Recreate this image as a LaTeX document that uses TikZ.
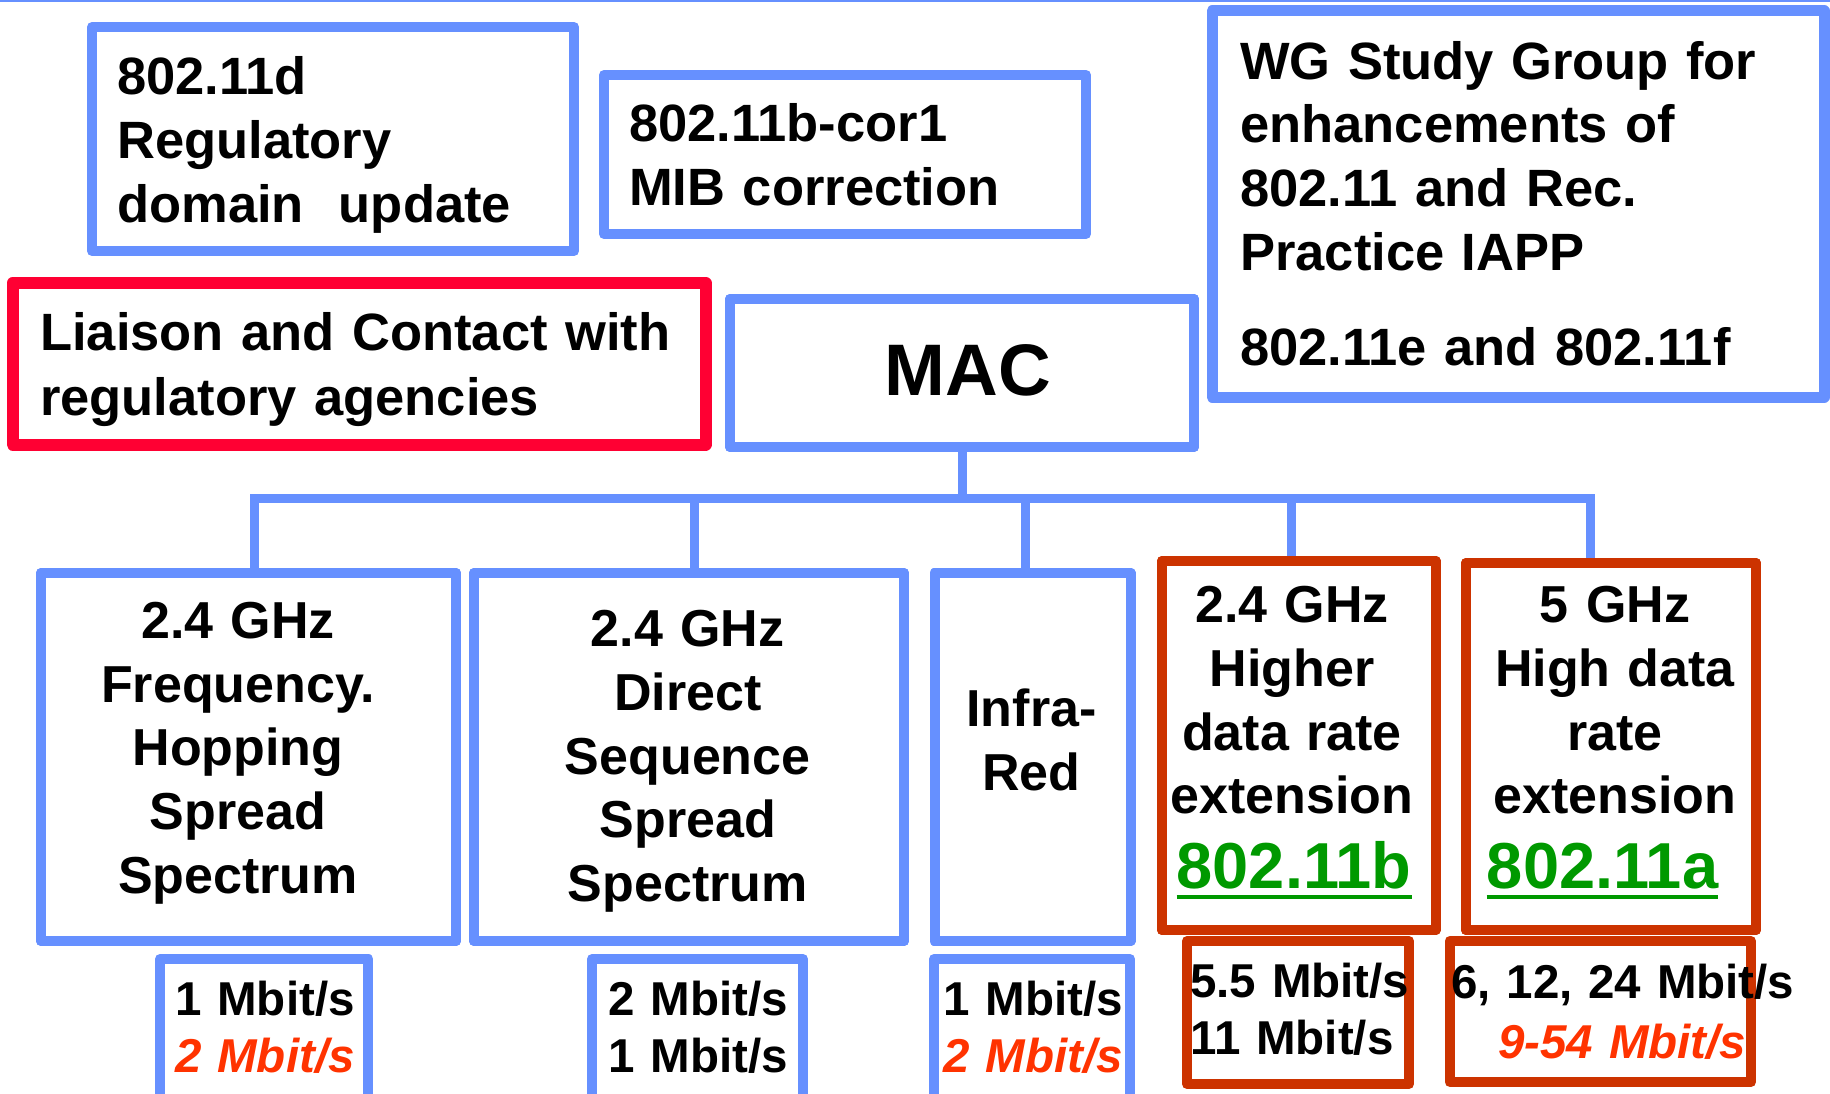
\documentclass[tikz,border=0pt]{standalone}
\usepackage{fontspec}
\setmainfont{Liberation Sans}
\definecolor{bl}{RGB}{102,144,255}
\definecolor{lred}{RGB}{255,0,51}
\definecolor{ored}{RGB}{204,51,0}
\definecolor{grn}{RGB}{0,153,0}
\definecolor{ired}{RGB}{255,51,0}
\tikzset{
  bluebox/.style={draw=bl, line width=10pt, line join=round, inner sep=0pt, outer sep=0pt, fill=white},
  redbox/.style={draw=lred, line width=12pt, line join=round, inner sep=0pt, outer sep=0pt, fill=white},
  orbox/.style={draw=ored, line width=10pt, line join=round, inner sep=0pt, outer sep=0pt, fill=white},
  conn/.style={draw=bl, line width=9pt},
  ltxt/.style={inner sep=0pt, anchor=base west, text width=700pt, align=left,
    font=\bfseries\fontsize{52.5}{63.7}\selectfont},
  ctxt/.style={inner sep=0pt, anchor=base, text width=400pt, align=center,
    font=\bfseries\fontsize{52}{63.7}\selectfont},
  rtxt/.style={inner sep=0pt, anchor=base west, text width=400pt, align=left,
    font=\bfseries\fontsize{47.5}{57.7}\selectfont},
  std/.style={inner sep=0pt, anchor=base west, font=\bfseries\fontsize{65}{70}\selectfont, text=grn}
}
\newcommand{\redit}[1]{{\itshape\color{ired}#1}}
\begin{document}
\begin{tikzpicture}[x=1pt,y=-1pt]
\useasboundingbox (0,0) rectangle (1830,1094);
\clip (0,0) rectangle (1830,1094);
\fill[white] (0,0) rectangle (1830,1094);
\fill[bl] (0,0) rectangle (1830,1.6);
% coordinates of the bus
\coordinate (d1) at (254,498);
\coordinate (d2) at (694,498);
\coordinate (d3) at (1025,498);
\coordinate (d4) at (1291,498);
\coordinate (d5) at (1590,498);
% boxes
\node[bluebox, minimum width=482pt, minimum height=224pt] (d) at (333,139) {};
\node[bluebox, minimum width=482pt, minimum height=159pt] (cor) at (845,154.5) {};
\node[bluebox, line width=11pt, minimum width=612pt, minimum height=386pt] (wg) at (1518,204) {};
\node[redbox, minimum width=693pt, minimum height=161.5pt] (lia) at (359,363.75) {};
\node[bluebox, minimum width=464pt, minimum height=148pt] (mac) at (962,373) {};
\node[bluebox, minimum width=415pt, minimum height=368pt] (fh) at (248.5,757) {};
\node[bluebox, minimum width=430pt, minimum height=368pt] (ds) at (689,757) {};
\node[bluebox, minimum width=196pt, minimum height=368pt] (ir) at (1032.5,757) {};
\node[orbox, minimum width=273.6pt, minimum height=369pt] (hb) at (1298.8,745.5) {};
\node[orbox, minimum width=290pt, minimum height=367pt] (ha) at (1611,746.5) {};
\node[bluebox, minimum width=208.4pt, minimum height=161pt] (r1) at (264.2,1039.5) {};
\node[bluebox, minimum width=211pt, minimum height=161pt] (r2) at (697.5,1039.5) {};
\node[bluebox, minimum width=196pt, minimum height=161pt] (r3) at (1032,1039.5) {};
\node[orbox, minimum width=222pt, minimum height=143pt] (r4) at (1298,1012.5) {};
\node[orbox, minimum width=301.4pt, minimum height=141pt] (r5) at (1600.3,1011.5) {};
% connectors
\draw[conn] (mac.south) -- (mac.south |- d1);
\draw[conn, line join=miter] (fh.north -| d1) -- (d1) -- (d5) -- (ha.north -| d5);
\draw[conn] (d2) -- (ds.north -| d2);
\draw[conn] (d3) -- (ir.north -| d3);
\draw[conn] (d4) -- (hb.north -| d4);
% redraw box borders over connector ends
\draw[bl, line width=10pt, line join=round] (mac.south west) rectangle (mac.north east);
\draw[bl, line width=10pt, line join=round] (fh.south west) rectangle (fh.north east);
\draw[bl, line width=10pt, line join=round] (ds.south west) rectangle (ds.north east);
\draw[bl, line width=10pt, line join=round] (ir.south west) rectangle (ir.north east);
\draw[ored, line width=10pt, line join=round] (hb.south west) rectangle (hb.north east);
\draw[ored, line width=10pt, line join=round] (ha.south west) rectangle (ha.north east);
% texts
\node[ltxt] (td) at (117,95) {802.11d\\Regulatory\\domain\ \ update};
\node[ltxt] (tcor) at (629,141.7) {802.11b-cor1\\MIB correction};
\node[ltxt] (twg) at (1240,79.3) {WG Study Group for\\enhancements of\\802.11 and Rec.\\Practice IAPP\\[31.6pt]802.11e and 802.11f};
\node[ltxt, font=\bfseries\fontsize{52.5}{64.3}\selectfont] (tlia) at (40,350.7) {Liaison and Contact with\\regulatory agencies};
\node[inner sep=0pt, anchor=base, font=\bfseries\fontsize{73}{80}\selectfont] (tmac) at (968,395) {MAC};
\node[ctxt] (tfh) at (238,638.3) {2.4 GHz\\Frequency.\\Hopping\\Spread\\Spectrum};
\node[ctxt] (tds) at (687.7,646.7) {2.4 GHz\\Direct\\Sequence\\Spread\\Spectrum};
\node[ctxt] (tir) at (1031.5,726.7) {Infra-\\Red};
\node[ctxt] (thb) at (1292,622.7) {2.4 GHz\\Higher\\data rate\\extension};
\node[ctxt] (tha) at (1615,622.7) {5 GHz\\High data\\rate\\extension};
\node[std] (nb) at (1176.5,888.3) {802.11b};
\node[std] (na) at (1486.7,888.3) {802.11a};
\draw[grn, line width=3.5pt] ([yshift=-8.5pt]nb.base west) -- ([yshift=-8.5pt]nb.base east);
\draw[grn, line width=3.5pt] ([yshift=-8.5pt]na.base west) -- ([yshift=-8.5pt]na.base east);
\node[rtxt] (tr1) at (175,1015) {1 Mbit/s\\\redit{2 Mbit/s}};
\node[rtxt] (tr2) at (608,1015) {2 Mbit/s\\1 Mbit/s};
\node[rtxt] (tr3) at (943,1015) {1 Mbit/s\\\redit{2 Mbit/s}};
\node[rtxt] (tr4) at (1190,997) {5.5 Mbit/s\\11 Mbit/s};
\node[rtxt, font=\bfseries\fontsize{47.5}{59.4}\selectfont] (tr5) at (1451,998.6) {6, 12, 24 Mbit/s\\\hspace*{47pt}\redit{9-54 Mbit/s}};
\end{tikzpicture}
\end{document}
